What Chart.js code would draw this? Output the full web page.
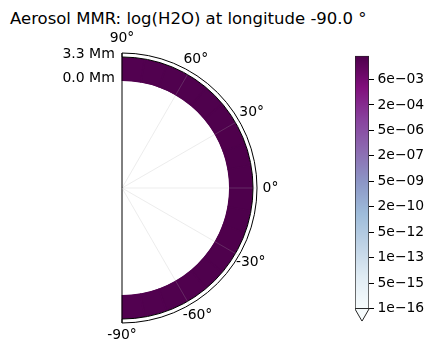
<!DOCTYPE html>
<html>
<head>
<meta charset="utf-8">
<script src="https://cdn.jsdelivr.net/npm/chart.js@4.4.1/dist/chart.umd.min.js"></script>
<style>
  html, body { margin: 0; padding: 0; background: #ffffff; width: 435px; height: 355px; overflow: hidden; position: relative; }
  canvas { position: absolute; }
  #title { position: absolute; left: 10px; top: 9px; font-family: 'DejaVu Sans'; font-size: 16.5px; line-height: 20px; color: #000; white-space: nowrap; }
</style>
</head>
<body>
<div id="title"></div>
<canvas id="ring" width="151" height="280" style="left:114px;top:48px"></canvas>
<canvas id="axes" width="316" height="316" style="left:-36px;top:30px"></canvas>
<canvas id="cbar" width="84" height="289" style="left:355px;top:44px"></canvas>
<script>
// ------------------------------------------------------------------ data
const titleText = 'Aerosol MMR: log(H2O) at longitude -90.0 °';

// polar axes: latitude (theta) ticks and altitude (radial) ticks
const thetaTickLats = [90, 60, 30, 0, -30, -60, -90];
const thetaTickLabels = ['90°', '60°', '30°', '0°', '-30°', '-60°', '-90°'];
const radialTickValues = [0.0, 3.3];          // Mm
const radialUnit = 'Mm';
const radialMin = -15.125;                    // radial axis range (Mm), origin offset
const radialMax = 3.4375;

// data cells: latitude bands (north -> south) x one altitude layer
const latEdges = [90, 80, 70, 60, 50, 40, 30, 20, 10, 0, -10, -20, -30, -40, -50, -60, -70, -80, -90];
const altEdges = [-0.41, 2.89];               // Mm
const mmrValues = [0.094, 0.101, 0.108, 0.113, 0.118, 0.122, 0.125, 0.127, 0.128,
                   0.128, 0.127, 0.125, 0.122, 0.118, 0.113, 0.108, 0.101, 0.094];

// colour bar
const cbTickValues = [1e-16, 5e-15, 1e-13, 5e-12, 2e-10, 5e-9, 2e-7, 5e-6, 2e-4, 6e-3];
const cbTop = 9.93;          // top of the colour bar, in tick steps
const cbExtendFrac = 0.05;   // 'min' extension triangle

// ------------------------------------------------------------------ styling / layout
const FONT = 'DejaVu Sans';
Chart.defaults.font.family = FONT;
Chart.defaults.color = '#000';
Chart.defaults.animation = false;

const BuPu = ['#f7fcfd', '#e0ecf4', '#bfd3e6', '#9ebcda', '#8c96c6', '#8c6bb1', '#88419d', '#810f7c', '#4d004b'];
const POLAR_R = 135;            // pixel radius of the polar axes
const SLOT_DEG = 3;             // angular step of label slots
const N_SLOTS = 360 / SLOT_DEG;
const labelSlot = [0, 9, 20, 30, 40, 51, 60];
const labelPad = [-0.68, -6.5, -6.5, -1.4, -10.5, -8.4, -2.5];
const EMPTY_PAD = -20;
const BALANCE_SLOT = 90, BALANCE_PAD = 15.5;

function hexRgb(h) { return [1, 3, 5].map(i => parseInt(h.substr(i, 2), 16)); }
function cmap(f) {
  f = Math.max(0, Math.min(1, f));
  const x = f * (BuPu.length - 1);
  const i = Math.min(Math.floor(x), BuPu.length - 2);
  const t = x - i;
  const a = hexRgb(BuPu[i]), b = hexRgb(BuPu[i + 1]);
  const c = a.map((v, k) => Math.round(v + (b[k] - v) * t));
  return 'rgb(' + c.join(',') + ')';
}
const cbLogTicks = cbTickValues.map(v => Math.log10(v));
function cbPosition(v) {
  const lv = Math.log10(v), L = cbLogTicks, n = L.length;
  if (lv <= L[0]) return (lv - L[0]) / (L[1] - L[0]);
  for (let i = 0; i < n - 1; i++) {
    if (lv <= L[i + 1]) return i + (lv - L[i]) / (L[i + 1] - L[i]);
  }
  return (n - 1) + (lv - L[n - 1]) / (L[n - 1] - L[n - 2]);
}
function colorFor(v) { return cmap(cbPosition(v) / cbTop); }
function fmtSci(v) {
  const e = Math.floor(Math.log10(v) + 1e-9);
  const m = Math.round(v / Math.pow(10, e));
  return m + 'e' + (e < 0 ? '\u2212' : '+') + String(Math.abs(e)).padStart(2, '0');
}
const cbTickLabels = cbTickValues.map(fmtSci);

document.getElementById('title').textContent = titleText;

// ------------------------------------------------------------------ data ring (doughnut)
const rOf = v => POLAR_R * (v - radialMin) / (radialMax - radialMin);
const rIn = rOf(altEdges[0]);
const rOut = rOf(altEdges[1]);
const latWidths = latEdges.slice(1).map((e, i) => latEdges[i] - e);
const cellColors = mmrValues.map(colorFor);
const thetaSpan = latEdges[0] - latEdges[latEdges.length - 1];

new Chart(document.getElementById('ring'), {
  type: 'doughnut',
  data: {
    labels: latWidths.map((_, i) => latEdges[i] + '..' + latEdges[i + 1]),
    datasets: [
      { label: 'frame', data: [thetaSpan], backgroundColor: '#ffffff', borderColor: '#000000',
        borderWidth: 1, weight: POLAR_R - rOut },
      { label: 'H2O', data: latWidths, backgroundColor: cellColors, borderColor: cellColors,
        borderWidth: 1, borderAlign: 'inner', weight: rOut - rIn }
    ]
  },
  options: {
    responsive: false, animation: false, devicePixelRatio: 1, events: [],
    layout: { padding: 0 },
    rotation: 0, circumference: thetaSpan, radius: POLAR_R,
    cutout: (rIn / POLAR_R * 100) + '%',
    plugins: { legend: { display: false }, tooltip: { enabled: false } }
  }
});

// ------------------------------------------------------------------ polar grid, theta & radial labels
const slotLabels = Array(N_SLOTS).fill('');
const padBySlot = Array(N_SLOTS).fill(EMPTY_PAD);
thetaTickLats.forEach((lat, k) => { slotLabels[labelSlot[k]] = thetaTickLabels[k]; padBySlot[labelSlot[k]] = labelPad[k]; });
padBySlot[BALANCE_SLOT] = BALANCE_PAD;
const gridSlots = thetaTickLats.map(lat => (90 - lat) / SLOT_DEG);
const spineSlots = [gridSlots[0], gridSlots[gridSlots.length - 1]];

new Chart(document.getElementById('axes'), {
  type: 'radar',
  data: { labels: slotLabels, datasets: [] },
  options: {
    responsive: false, animation: false, devicePixelRatio: 1, events: [],
    layout: { padding: 0 },
    plugins: { legend: { display: false }, tooltip: { enabled: false } },
    scales: {
      r: {
        min: radialMin, max: radialMax, startAngle: 0,
        grid: { display: false },
        angleLines: {
          display: true,
          color: c => spineSlots.includes(c.index) ? '#000000' : (gridSlots.includes(c.index) ? 'rgba(176,176,176,0.3)' : 'rgba(0,0,0,0)'),
          lineWidth: c => spineSlots.includes(c.index) ? 1 : (gridSlots.includes(c.index) ? 0.8 : 0)
        },
        pointLabels: {
          display: true, color: '#000', font: { family: FONT, size: 13.9 },
          padding: c => padBySlot[c.index]
        },
        ticks: {
          display: true, color: '#000', font: { family: FONT, size: 14 },
          showLabelBackdrop: false, backdropPadding: 0,
          callback: v => v.toFixed(1) + ' ' + radialUnit + ' '.repeat(15)
        },
        afterBuildTicks: s => { s.ticks = radialTickValues.map(v => ({ value: v })); }
      }
    }
  }
});

// ------------------------------------------------------------------ colour bar
const cbMin = 0;
const cbLow = cbMin - cbExtendFrac * (cbTop - cbMin);
function cbGradient(c) {
  const chart = c.chart;
  if (!chart.chartArea) return BuPu[4];
  const y = chart.scales.y;
  const g = chart.ctx.createLinearGradient(0, y.getPixelForValue(cbMin), 0, y.getPixelForValue(cbTop));
  BuPu.forEach((col, i) => g.addColorStop(i / (BuPu.length - 1), col));
  return g;
}
function triRadius(c) {
  const y = c.chart.scales.y;
  if (!y) return 8;
  return (2 / 3) * Math.abs(y.getPixelForValue(cbLow) - y.getPixelForValue(cbMin));
}

new Chart(document.getElementById('cbar'), {
  type: 'bar',
  data: {
    labels: [''],
    datasets: [
      { type: 'bar', data: [[cbMin, cbTop]], backgroundColor: cbGradient, borderColor: '#262626',
        borderWidth: 1, borderSkipped: 'bottom', barPercentage: 1, categoryPercentage: 1, order: 0 },
      { type: 'line', data: [cbMin - cbExtendFrac * (cbTop - cbMin) / 3], showLine: false,
        pointStyle: 'triangle', pointRotation: 180, pointRadius: triRadius,
        pointBackgroundColor: BuPu[0], pointBorderColor: '#262626', pointBorderWidth: 1, order: 1 }
    ]
  },
  options: {
    responsive: false, animation: false, devicePixelRatio: 1, events: [],
    layout: { padding: { top: 10, bottom: 10, left: 0, right: 0 } },
    plugins: { legend: { display: false }, tooltip: { enabled: false } },
    scales: {
      x: { display: false },
      y: {
        position: 'right', min: cbLow, max: cbTop,
        afterBuildTicks: s => { s.ticks = cbTickValues.map((v, i) => ({ value: i })); },
        afterFit: s => { s.width = 70; },
        grid: { display: true, drawOnChartArea: false, drawTicks: true, tickLength: 5, color: '#000', lineWidth: 1 },
        border: { display: false },
        ticks: { autoSkip: false, color: '#000', font: { family: FONT, size: 13.9 }, padding: 3.5,
                 callback: (v, i) => cbTickLabels[i] }
      }
    }
  }
});
</script>
</body>
</html>
